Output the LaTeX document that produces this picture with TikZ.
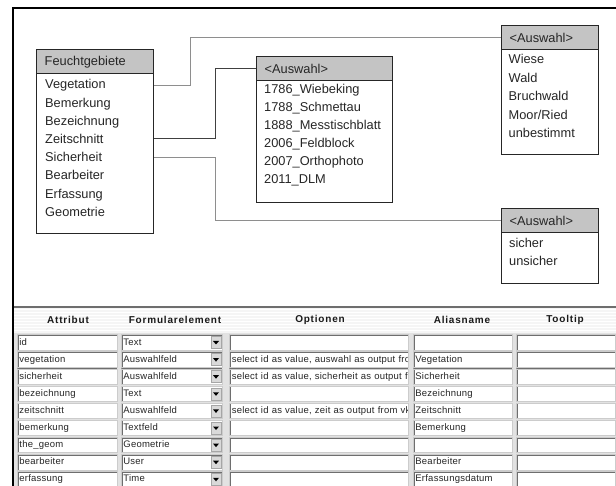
\documentclass[tikz,border=0pt]{standalone}
\usepackage{fontspec}
\setmainfont{Liberation Sans}
\newfontfamily\zellschrift[LetterSpace=2.5]{Liberation Sans}
\newfontfamily\kopfschrift[LetterSpace=8]{Liberation Sans}
\usetikzlibrary{positioning}

\definecolor{kopfgrau}{HTML}{C4C4C4}
\definecolor{liniengrau}{HTML}{8E8E8E}
\definecolor{tabgrau}{HTML}{E2E2E2}
\definecolor{randgrau}{HTML}{6E6E6E}

\newcommand\versenkt{\draw[randgrau, line width=2.4pt] (path picture bounding box.south west) |- (path picture bounding box.north east);}

\tikzset{
  kasten/.style={draw=black!85, line width=1.4pt, fill=white, anchor=north west, inner sep=0pt},
  kopf/.style={draw=black!85, line width=1.4pt, fill=kopfgrau, anchor=north west, minimum height=24pt, inner xsep=8pt, inner ysep=0pt, text width=#1, align=left, font=\fontsize{12.8}{15}\selectfont, text=black!85},
  eintrag/.style={anchor=mid west, inner sep=0pt, font=\fontsize{12.8}{15}\selectfont, text=black!85},
  linie/.style={draw=liniengrau, line width=0.8pt},
  zelle/.style={anchor=west, inner xsep=2pt, inner ysep=0pt, text height=7pt, text depth=2pt, font=\zellschrift\fontsize{9.5}{11}\selectfont, text=black!85},
  feld/.style={zelle, draw=gray!40, fill=white, line width=0.8pt, minimum height=15.5pt, text width=#1, align=left, path picture=\versenkt},
  knopf/.style={fill=gray!30, draw=gray!70, line width=0.6pt, minimum width=10pt, minimum height=12pt, inner sep=0pt,
    path picture={\fill[black] ([shift={(-3pt,1.5pt)}]path picture bounding box.center) -- ([shift={(3pt,1.5pt)}]path picture bounding box.center) -- ([shift={(0pt,-2pt)}]path picture bounding box.center) -- cycle;}},
  spalte/.style={font=\kopfschrift\bfseries\fontsize{10}{12}\selectfont, text=black!90}
}

\begin{document}
\begin{tikzpicture}[x=1pt, y=-1pt]
    \useasboundingbox (0,0) rectangle (616,486);
    \fill[white] (0,0) rectangle (616,486);

    \node[kasten, minimum width=117pt, minimum height=184pt] (feucht) at (36,49) {};
    \node[kopf=101pt] (feuchtkopf) at (feucht.north west) {Feuchtgebiete};
    \foreach \t [count=\i] in {Vegetation,Bemerkung,Bezeichnung,Zeitschnitt,Sicherheit,Bearbeiter,Erfassung,Geometrie}
        \node[eintrag] (f\i) at (45,68+\i*18.2) {\t};

    \node[kasten, minimum width=136pt, minimum height=146pt] (zeit) at (256,56) {};
    \node[kopf=120pt] (zeitkopf) at (zeit.north west) {<Auswahl>};
    \foreach \t [count=\i] in {1786\_Wiebeking,1788\_Schmettau,1888\_Messtischblatt,2006\_Feldblock,2007\_Orthophoto,2011\_DLM}
        \node[eintrag] (z\i) at (264,73+\i*18) {\t};

    \node[kasten, minimum width=97pt, minimum height=129pt] (veg) at (501,25) {};
    \node[kopf=81pt] (vegkopf) at (veg.north west) {<Auswahl>};
    \foreach \t [count=\i] in {Wiese,Wald,Bruchwald,Moor/Ried,unbestimmt}
        \node[eintrag] (v\i) at (508.5,42.5+\i*18.5) {\t};

    \node[kasten, minimum width=97pt, minimum height=75pt] (sicher) at (501,208) {};
    \node[kopf=81pt] (sicherkopf) at (sicher.north west) {<Auswahl>};
    \foreach \t [count=\i] in {sicher,unsicher}
        \node[eintrag] (s\i) at (509,227+\i*18) {\t};

    \draw[linie] (feucht.east |- f1) -- ++(36,0) |- (vegkopf.west);
    \draw[linie, draw=black!75] (feucht.east |- f4) -- ++(61,0) |- (zeitkopf.west);
    \draw[linie] (feucht.east |- f5) -- ++(61,0) |- (sicherkopf.west);

    \fill[tabgrau] (14,307) rectangle (616,486);
    \fill[gray!8] (14,308) rectangle (616,333);
    \foreach \s in {310,313,...,331}
        \draw[white, line width=1pt] (14,\s) -- (616,\s);
    \draw[randgrau, line width=2pt] (14,307) -- (616,307);

    \node[spalte] (hattr) at (68,320) {Attribut};
    \node[spalte] (hform) at (175,320) {Formularelement};
    \node[spalte] (hopt) at (320,320) {Optionen};
    \node[spalte] (halias) at (462,320) {Aliasname};
    \node[spalte] (htip) at (565,320) {Tooltip};

    \foreach \a/\b/\c/\d [count=\i] in {id/Text//,
        vegetation/Auswahlfeld/{select id as value, auswahl as output from}/Vegetation,
        sicherheit/Auswahlfeld/{select id as value, sicherheit as output from}/Sicherheit,
        bezeichnung/Text//Bezeichnung,
        zeitschnitt/Auswahlfeld/{select id as value, zeit as output from vkl}/Zeitschnitt,
        bemerkung/Textfeld//Bemerkung,
        the\_geom/Geometrie//,
        bearbeiter/User//Bearbeiter,
        erfassung/Time//Erfassungsdatum}
    {
        \pgfmathsetmacro\y{325.4+\i*17.1}
        \node[feld=96pt] (attr\i) at (17,\y) {\a};
        \node[feld=97pt] (form\i) at (121,\y) {\b};
        \node[knopf] (knopf\i) at (216,\y) {};
        \node[feld=175pt, path picture={\versenkt\node[zelle] (optt\i) at (path picture bounding box.west) {\mbox{\c}};}] (opt\i) at (229,\y) {};
        \node[feld=95pt] (alias\i) at (413,\y) {\d};
        \node[feld=95pt] (tip\i) at (516,\y) {};
    }

    \draw[line width=2.2pt] (13,486) -- (13,8) -- (616,8);
\end{tikzpicture}
\end{document}
